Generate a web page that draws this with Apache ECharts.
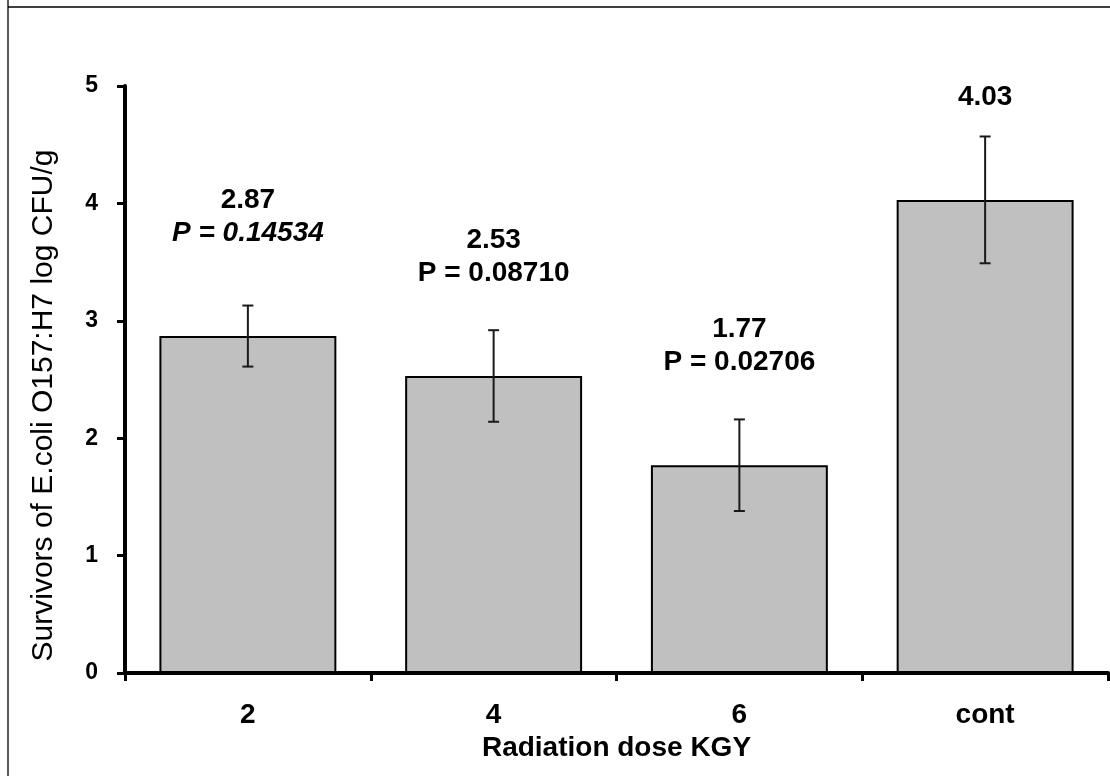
<!DOCTYPE html>
<html>
<head>
<meta charset="utf-8">
<script src="https://cdn.jsdelivr.net/npm/echarts@6/dist/echarts.min.js"></script>
<style>html,body{margin:0;padding:0;background:#fff;}#c{width:1110px;height:776px;}</style>
</head>
<body>
<div id="c"></div>
<script>
const categories = ['2', '4', '6', 'cont'];
const means = [2.87, 2.53, 1.77, 4.03];
const errLow = [2.61, 2.14, 1.38, 3.49];
const errHigh = [3.13, 2.92, 2.16, 4.57];
const pValues = ['P = 0.14534', 'P = 0.08710', 'P = 0.02706', null];
const pItalic = [true, false, false, false];
const yTicks = [0, 1, 2, 3, 4, 5];

const FONT = '"Liberation Sans", Arial, sans-serif';
const chart = echarts.init(document.getElementById('c'));

const barData = means.map((v, i) => {
  const txt = pValues[i]
    ? '{v|' + v.toFixed(2) + '}\n{' + (pItalic[i] ? 'pi' : 'p') + '|' + pValues[i] + '}'
    : '{v|' + v.toFixed(2) + '}';
  return { value: v, label: { formatter: txt } };
});

chart.setOption({
  animation: false,
  backgroundColor: '#fff',
  grid: { left: 125, right: 2, top: 86, bottom: 103 },
  graphic: [
    { type: 'line', shape: { x1: 8, y1: 0, x2: 8, y2: 776 }, style: { stroke: '#5a5a5a', lineWidth: 2 } },
    { type: 'line', shape: { x1: 8, y1: 7, x2: 1110, y2: 7 }, style: { stroke: '#000', lineWidth: 1.5 } }
  ],
  xAxis: {
    type: 'category',
    data: categories,
    name: 'Radiation dose KGY',
    nameLocation: 'middle',
    nameGap: 58,
    nameTextStyle: { fontFamily: FONT, fontSize: 28, fontWeight: 'bold', color: '#000', verticalAlign: 'top' },
    axisLine: { lineStyle: { color: '#000', width: 4 } },
    axisTick: { show: true, length: 8, lineStyle: { color: '#000', width: 3 } },
    axisLabel: { fontFamily: FONT, fontSize: 28, fontWeight: 'bold', color: '#000', margin: 28 }
  },
  yAxis: {
    type: 'value',
    min: 0, max: 5, interval: 1,
    name: 'Survivors of E.coli O157:H7 log CFU/g',
    nameLocation: 'middle',
    nameGap: 66,
    nameRotate: 90,
    nameTextStyle: { fontFamily: FONT, fontSize: 30, color: '#000', padding: [0, 52, 0, 0] },
    axisLine: { show: true, lineStyle: { color: '#000', width: 4 } },
    axisTick: { show: true, length: 8, lineStyle: { color: '#000', width: 3 } },
    axisLabel: { fontFamily: FONT, fontSize: 23, fontWeight: 'bold', color: '#000', margin: 27,
      formatter: v => yTicks.includes(v) ? String(v) : '' },
    splitLine: { show: false }
  },
  series: [
    {
      type: 'bar',
      data: barData,
      barWidth: '72%',
      itemStyle: { color: '#c0c0c0', borderColor: '#000', borderWidth: 2 },
      label: {
        show: true,
        position: 'top',
        distance: 86,
        align: 'center',
        rich: {
          v: { fontFamily: FONT, fontSize: 28, fontWeight: 'bold', color: '#000', lineHeight: 33 },
          p: { fontFamily: FONT, fontSize: 28, fontWeight: 'bold', color: '#000', lineHeight: 33 },
          pi: { fontFamily: FONT, fontSize: 28, fontWeight: 'bold', fontStyle: 'italic', color: '#000', lineHeight: 33 }
        }
      },
      z: 2
    },
    {
      type: 'custom',
      data: categories.map((c, i) => [i, errLow[i], errHigh[i]]),
      renderItem: function (params, api) {
        const x = api.value(0);
        const lo = api.coord([x, api.value(1)]);
        const hi = api.coord([x, api.value(2)]);
        const hw = 5.5;
        const st = { stroke: '#1a1a1a', lineWidth: 2 };
        return {
          type: 'group',
          children: [
            { type: 'line', shape: { x1: lo[0], y1: lo[1], x2: hi[0], y2: hi[1] }, style: st },
            { type: 'line', shape: { x1: lo[0] - hw, y1: lo[1], x2: lo[0] + hw, y2: lo[1] }, style: st },
            { type: 'line', shape: { x1: hi[0] - hw, y1: hi[1], x2: hi[0] + hw, y2: hi[1] }, style: st }
          ]
        };
      },
      z: 3
    }
  ]
});
</script>
</body>
</html>
